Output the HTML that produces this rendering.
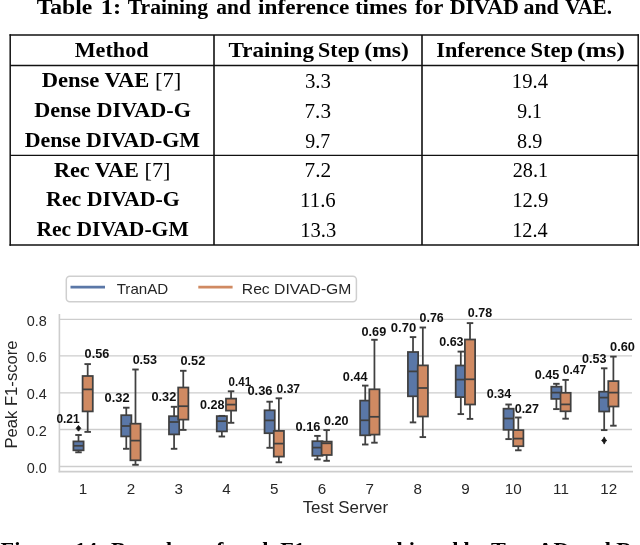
<!DOCTYPE html>
<html><head><meta charset="utf-8"><style>
html,body{margin:0;padding:0;background:#fff;width:640px;height:545px;overflow:hidden}
svg{display:block} svg{filter:blur(0.3px)}
</style></head><body>
<svg width="640" height="545" viewBox="0 0 640 545">
<rect class="bg" width="640" height="545" fill="#fff"/>
<text x="0" y="0" transform="translate(36.684,13.80) scale(1.11647,1)" font-family='"Liberation Serif", serif' font-weight="bold" font-size="21.2" fill="#000" >Table</text>
<text x="0" y="0" transform="translate(100.699,13.80) scale(1.15579,1)" font-family='"Liberation Serif", serif' font-weight="bold" font-size="21.2" fill="#000" >1:</text>
<text x="0" y="0" transform="translate(127.688,13.80) scale(1.02324,1)" font-family='"Liberation Serif", serif' font-weight="bold" font-size="21.2" fill="#000" >Training</text>
<text x="0" y="0" transform="translate(216.240,13.80) scale(1.01163,1)" font-family='"Liberation Serif", serif' font-weight="bold" font-size="21.2" fill="#000" >and</text>
<text x="0" y="0" transform="translate(258.118,13.80) scale(1.09725,1)" font-family='"Liberation Serif", serif' font-weight="bold" font-size="21.2" fill="#000" >inference</text>
<text x="0" y="0" transform="translate(354.875,13.80) scale(1.08523,1)" font-family='"Liberation Serif", serif' font-weight="bold" font-size="21.2" fill="#000" >times</text>
<text x="0" y="0" transform="translate(414.900,13.80) scale(1.04749,1)" font-family='"Liberation Serif", serif' font-weight="bold" font-size="21.2" fill="#000" >for</text>
<text x="0" y="0" transform="translate(449.627,13.80) scale(1.03993,1)" font-family='"Liberation Serif", serif' font-weight="bold" font-size="21.2" fill="#000" >DIVAD</text>
<text x="0" y="0" transform="translate(523.398,13.80) scale(1.03777,1)" font-family='"Liberation Serif", serif' font-weight="bold" font-size="21.2" fill="#000" >and</text>
<text x="0" y="0" transform="translate(565.216,13.80) scale(0.98883,1)" font-family='"Liberation Serif", serif' font-weight="bold" font-size="21.2" fill="#000" >VAE.</text>
<g stroke="#111111" stroke-width="1.3" fill="none">
<line x1="9.5" y1="35" x2="638.9" y2="35" stroke-width="1.4"/>
<line x1="9.5" y1="245" x2="638.9" y2="245" stroke-width="1.4"/>
<line x1="10.2" y1="34.3" x2="10.2" y2="245.7" stroke-width="1.5"/>
<line x1="638.2" y1="34.3" x2="638.2" y2="245.7" stroke-width="1.5"/>
<line x1="10" y1="65.5" x2="638" y2="65.5" stroke-width="1.3"/>
<line x1="10" y1="155.3" x2="638" y2="155.3" stroke-width="1.3"/>
<line x1="214" y1="35" x2="214" y2="245" stroke-width="1.6"/>
<line x1="422" y1="35" x2="422" y2="245" stroke-width="1.6"/>
</g>
<text x="0" y="0" transform="translate(74.673,56.70) scale(1.04625,1)" font-family='"Liberation Serif", serif' font-weight="bold" font-size="21.2" fill="#000" >Method</text>
<text x="0" y="0" transform="translate(228.485,56.70) scale(1.08926,1)" font-family='"Liberation Serif", serif' font-weight="bold" font-size="21.2" fill="#000" >Training</text>
<text x="0" y="0" transform="translate(318.089,56.70) scale(1.03812,1)" font-family='"Liberation Serif", serif' font-weight="bold" font-size="21.2" fill="#000" >Step</text>
<text x="0" y="0" transform="translate(364.279,56.70) scale(1.11283,1)" font-family='"Liberation Serif", serif' font-weight="bold" font-size="21.2" fill="#000" >(ms)</text>
<text x="0" y="0" transform="translate(436.225,56.70) scale(1.04868,1)" font-family='"Liberation Serif", serif' font-weight="bold" font-size="21.2" fill="#000" >Inference</text>
<text x="0" y="0" transform="translate(530.387,56.70) scale(1.06490,1)" font-family='"Liberation Serif", serif' font-weight="bold" font-size="21.2" fill="#000" >Step</text>
<text x="0" y="0" transform="translate(577.088,56.70) scale(1.19304,1)" font-family='"Liberation Serif", serif' font-weight="bold" font-size="21.2" fill="#000" >(ms)</text>
<text x="0" y="0" transform="translate(41.65,87.00) scale(1.0654,1)" font-family='"Liberation Serif", serif' font-size="21.2" fill="#000"><tspan font-weight="bold">Dense VAE </tspan><tspan font-weight="normal">[7]</tspan></text>
<text x="0" y="0" transform="translate(304.898,87.50) scale(1.03437,1)" font-family='"Liberation Serif", serif' font-weight="normal" font-size="20.2" fill="#000" >3.3</text>
<text x="0" y="0" transform="translate(511.849,87.50) scale(1.02230,1)" font-family='"Liberation Serif", serif' font-weight="normal" font-size="20.2" fill="#000" >19.4</text>
<text x="0" y="0" transform="translate(34.20,117.00) scale(1.0472,1)" font-family='"Liberation Serif", serif' font-size="21.2" fill="#000"><tspan font-weight="bold">Dense DIVAD-G</tspan></text>
<text x="0" y="0" transform="translate(304.533,117.50) scale(1.04852,1)" font-family='"Liberation Serif", serif' font-weight="normal" font-size="20.2" fill="#000" >7.3</text>
<text x="0" y="0" transform="translate(517.224,117.50) scale(0.98142,1)" font-family='"Liberation Serif", serif' font-weight="normal" font-size="20.2" fill="#000" >9.1</text>
<text x="0" y="0" transform="translate(24.66,147.00) scale(1.0332,1)" font-family='"Liberation Serif", serif' font-size="21.2" fill="#000"><tspan font-weight="bold">Dense DIVAD-GM</tspan></text>
<text x="0" y="0" transform="translate(305.362,147.50) scale(0.98554,1)" font-family='"Liberation Serif", serif' font-weight="normal" font-size="20.2" fill="#000" >9.7</text>
<text x="0" y="0" transform="translate(517.104,147.50) scale(1.00058,1)" font-family='"Liberation Serif", serif' font-weight="normal" font-size="20.2" fill="#000" >8.9</text>
<text x="0" y="0" transform="translate(53.89,176.80) scale(1.0498,1)" font-family='"Liberation Serif", serif' font-size="21.2" fill="#000"><tspan font-weight="bold">Rec VAE </tspan><tspan font-weight="normal">[7]</tspan></text>
<text x="0" y="0" transform="translate(304.557,177.30) scale(1.05765,1)" font-family='"Liberation Serif", serif' font-weight="normal" font-size="20.2" fill="#000" >7.2</text>
<text x="0" y="0" transform="translate(512.752,177.30) scale(0.99926,1)" font-family='"Liberation Serif", serif' font-weight="normal" font-size="20.2" fill="#000" >28.1</text>
<text x="0" y="0" transform="translate(46.11,206.00) scale(1.0312,1)" font-family='"Liberation Serif", serif' font-size="21.2" fill="#000"><tspan font-weight="bold">Rec DIVAD-G</tspan></text>
<text x="0" y="0" transform="translate(300.104,206.50) scale(1.03040,1)" font-family='"Liberation Serif", serif' font-weight="normal" font-size="20.2" fill="#000" >11.6</text>
<text x="0" y="0" transform="translate(512.175,206.50) scale(1.02313,1)" font-family='"Liberation Serif", serif' font-weight="normal" font-size="20.2" fill="#000" >12.9</text>
<text x="0" y="0" transform="translate(36.41,236.20) scale(1.0181,1)" font-family='"Liberation Serif", serif' font-size="21.2" fill="#000"><tspan font-weight="bold">Rec DIVAD-GM</tspan></text>
<text x="0" y="0" transform="translate(300.247,236.70) scale(1.01844,1)" font-family='"Liberation Serif", serif' font-weight="normal" font-size="20.2" fill="#000" >13.3</text>
<text x="0" y="0" transform="translate(512.132,236.70) scale(1.00535,1)" font-family='"Liberation Serif", serif' font-weight="normal" font-size="20.2" fill="#000" >12.4</text>
<g stroke="#cdcdcd" stroke-width="1.3" fill="none">
<line x1="59.4" y1="319.3" x2="632" y2="319.3"/>
<line x1="59.4" y1="355.9" x2="632" y2="355.9"/>
<line x1="59.4" y1="392.8" x2="632" y2="392.8"/>
<line x1="59.4" y1="429.5" x2="632" y2="429.5"/>
<line x1="59.4" y1="466.5" x2="632" y2="466.5"/>
<line x1="59.4" y1="314" x2="59.4" y2="472.2" stroke-width="1.6"/>
<line x1="58.6" y1="471.6" x2="633" y2="471.6" stroke-width="1.6"/>
</g>
<text x="0" y="0" transform="translate(26.700,472.78) scale(0.95134,1)" font-family='"Liberation Sans", sans-serif' font-weight="normal" font-size="15.2" fill="#262626" >0.0</text>
<text x="0" y="0" transform="translate(26.700,435.78) scale(0.95134,1)" font-family='"Liberation Sans", sans-serif' font-weight="normal" font-size="15.2" fill="#262626" >0.2</text>
<text x="0" y="0" transform="translate(26.700,399.08) scale(0.95134,1)" font-family='"Liberation Sans", sans-serif' font-weight="normal" font-size="15.2" fill="#262626" >0.4</text>
<text x="0" y="0" transform="translate(26.700,362.18) scale(0.95134,1)" font-family='"Liberation Sans", sans-serif' font-weight="normal" font-size="15.2" fill="#262626" >0.6</text>
<text x="0" y="0" transform="translate(26.700,325.58) scale(0.95134,1)" font-family='"Liberation Sans", sans-serif' font-weight="normal" font-size="15.2" fill="#262626" >0.8</text>
<text x="83.09" y="493.9" text-anchor="middle" font-family='"Liberation Sans", sans-serif' font-size="15.2" fill="#262626">1</text>
<text x="130.88" y="493.9" text-anchor="middle" font-family='"Liberation Sans", sans-serif' font-size="15.2" fill="#262626">2</text>
<text x="178.68" y="493.9" text-anchor="middle" font-family='"Liberation Sans", sans-serif' font-size="15.2" fill="#262626">3</text>
<text x="226.46" y="493.9" text-anchor="middle" font-family='"Liberation Sans", sans-serif' font-size="15.2" fill="#262626">4</text>
<text x="274.25" y="493.9" text-anchor="middle" font-family='"Liberation Sans", sans-serif' font-size="15.2" fill="#262626">5</text>
<text x="322.04" y="493.9" text-anchor="middle" font-family='"Liberation Sans", sans-serif' font-size="15.2" fill="#262626">6</text>
<text x="369.83" y="493.9" text-anchor="middle" font-family='"Liberation Sans", sans-serif' font-size="15.2" fill="#262626">7</text>
<text x="417.62" y="493.9" text-anchor="middle" font-family='"Liberation Sans", sans-serif' font-size="15.2" fill="#262626">8</text>
<text x="465.41" y="493.9" text-anchor="middle" font-family='"Liberation Sans", sans-serif' font-size="15.2" fill="#262626">9</text>
<text x="513.21" y="493.9" text-anchor="middle" font-family='"Liberation Sans", sans-serif' font-size="15.2" fill="#262626">10</text>
<text x="561.00" y="493.9" text-anchor="middle" font-family='"Liberation Sans", sans-serif' font-size="15.2" fill="#262626">11</text>
<text x="608.79" y="493.9" text-anchor="middle" font-family='"Liberation Sans", sans-serif' font-size="15.2" fill="#262626">12</text>
<text x="0" y="0" transform="translate(302.639,512.90) scale(1.04468,1)" font-family='"Liberation Sans", sans-serif' font-weight="normal" font-size="16.2" fill="#262626" >Test Server</text>
<g transform="translate(17.1,448.6) rotate(-90)"><text x="0" y="0" transform="translate(0.000,0.00) scale(1.02817,1)" font-family='"Liberation Sans", sans-serif' font-weight="normal" font-size="16.2" fill="#262626" >Peak F1-score</text></g>
<rect x="66.3" y="276.2" width="290.1" height="25.6" rx="3.5" fill="#fff" stroke="#cfcfcf" stroke-width="1.5"/>
<line x1="70.5" y1="287.1" x2="105" y2="287.1" stroke="#5a77a7" stroke-width="2.7"/>
<line x1="198.3" y1="287.1" x2="232.6" y2="287.1" stroke="#d08a62" stroke-width="2.7"/>
<text x="0" y="0" transform="translate(116.677,293.50) scale(1.03595,1)" font-family='"Liberation Sans", sans-serif' font-weight="normal" font-size="14.6" fill="#262626" >TranAD</text>
<text x="0" y="0" transform="translate(241.796,293.50) scale(1.07574,1)" font-family='"Liberation Sans", sans-serif' font-weight="normal" font-size="14.6" fill="#262626" >Rec DIVAD-GM</text>
<g stroke="#404040" stroke-width="1.75">
<line x1="78.50" y1="435.0" x2="78.50" y2="441.4"/>
<line x1="78.50" y1="450.3" x2="78.50" y2="452.3"/>
<line x1="75.25" y1="435.0" x2="81.75" y2="435.0" stroke-width="1.9"/>
<line x1="75.25" y1="452.3" x2="81.75" y2="452.3" stroke-width="1.9"/>
<rect x="73.40" y="441.4" width="10.2" height="8.90" fill="#5a77a7"/>
<line x1="73.40" y1="445.8" x2="83.59" y2="445.8"/>
<line x1="87.69" y1="364.1" x2="87.69" y2="376.0"/>
<line x1="87.69" y1="411.4" x2="87.69" y2="431.9"/>
<line x1="84.44" y1="364.1" x2="90.94" y2="364.1" stroke-width="1.9"/>
<line x1="84.44" y1="431.9" x2="90.94" y2="431.9" stroke-width="1.9"/>
<rect x="82.59" y="376.0" width="10.2" height="35.40" fill="#d08a62"/>
<line x1="82.59" y1="389.4" x2="92.79" y2="389.4"/>
<line x1="126.28" y1="407.7" x2="126.28" y2="415.2"/>
<line x1="126.28" y1="436.4" x2="126.28" y2="448.8"/>
<line x1="123.03" y1="407.7" x2="129.53" y2="407.7" stroke-width="1.9"/>
<line x1="123.03" y1="448.8" x2="129.53" y2="448.8" stroke-width="1.9"/>
<rect x="121.19" y="415.2" width="10.2" height="21.20" fill="#5a77a7"/>
<line x1="121.19" y1="426.0" x2="131.38" y2="426.0"/>
<line x1="135.48" y1="369.5" x2="135.48" y2="423.7"/>
<line x1="135.48" y1="460.3" x2="135.48" y2="464.8"/>
<line x1="132.23" y1="369.5" x2="138.73" y2="369.5" stroke-width="1.9"/>
<line x1="132.23" y1="464.8" x2="138.73" y2="464.8" stroke-width="1.9"/>
<rect x="130.38" y="423.7" width="10.2" height="36.60" fill="#d08a62"/>
<line x1="130.38" y1="440.6" x2="140.58" y2="440.6"/>
<line x1="174.08" y1="406.8" x2="174.08" y2="416.2"/>
<line x1="174.08" y1="434.4" x2="174.08" y2="448.8"/>
<line x1="170.83" y1="406.8" x2="177.33" y2="406.8" stroke-width="1.9"/>
<line x1="170.83" y1="448.8" x2="177.33" y2="448.8" stroke-width="1.9"/>
<rect x="168.98" y="416.2" width="10.2" height="18.20" fill="#5a77a7"/>
<line x1="168.98" y1="422.0" x2="179.18" y2="422.0"/>
<line x1="183.28" y1="370.8" x2="183.28" y2="387.5"/>
<line x1="183.28" y1="419.6" x2="183.28" y2="429.9"/>
<line x1="180.03" y1="370.8" x2="186.53" y2="370.8" stroke-width="1.9"/>
<line x1="180.03" y1="429.9" x2="186.53" y2="429.9" stroke-width="1.9"/>
<rect x="178.18" y="387.5" width="10.2" height="32.10" fill="#d08a62"/>
<line x1="178.18" y1="406.2" x2="188.38" y2="406.2"/>
<line x1="221.86" y1="415.9" x2="221.86" y2="416.1"/>
<line x1="221.86" y1="431.4" x2="221.86" y2="436.5"/>
<line x1="218.61" y1="415.9" x2="225.11" y2="415.9" stroke-width="1.9"/>
<line x1="218.61" y1="436.5" x2="225.11" y2="436.5" stroke-width="1.9"/>
<rect x="216.76" y="416.1" width="10.2" height="15.30" fill="#5a77a7"/>
<line x1="216.76" y1="421.2" x2="226.96" y2="421.2"/>
<line x1="231.06" y1="391.3" x2="231.06" y2="398.6"/>
<line x1="231.06" y1="410.6" x2="231.06" y2="422.8"/>
<line x1="227.81" y1="391.3" x2="234.31" y2="391.3" stroke-width="1.9"/>
<line x1="227.81" y1="422.8" x2="234.31" y2="422.8" stroke-width="1.9"/>
<rect x="225.96" y="398.6" width="10.2" height="12.00" fill="#d08a62"/>
<line x1="225.96" y1="404.6" x2="236.16" y2="404.6"/>
<line x1="269.65" y1="401.7" x2="269.65" y2="410.3"/>
<line x1="269.65" y1="433.2" x2="269.65" y2="447.8"/>
<line x1="266.40" y1="401.7" x2="272.90" y2="401.7" stroke-width="1.9"/>
<line x1="266.40" y1="447.8" x2="272.90" y2="447.8" stroke-width="1.9"/>
<rect x="264.55" y="410.3" width="10.2" height="22.90" fill="#5a77a7"/>
<line x1="264.55" y1="420.4" x2="274.75" y2="420.4"/>
<line x1="278.86" y1="398.3" x2="278.86" y2="430.9"/>
<line x1="278.86" y1="456.6" x2="278.86" y2="462.3"/>
<line x1="275.61" y1="398.3" x2="282.11" y2="398.3" stroke-width="1.9"/>
<line x1="275.61" y1="462.3" x2="282.11" y2="462.3" stroke-width="1.9"/>
<rect x="273.75" y="430.9" width="10.2" height="25.70" fill="#d08a62"/>
<line x1="273.75" y1="443.6" x2="283.96" y2="443.6"/>
<line x1="317.44" y1="435.9" x2="317.44" y2="441.2"/>
<line x1="317.44" y1="455.8" x2="317.44" y2="459.4"/>
<line x1="314.19" y1="435.9" x2="320.69" y2="435.9" stroke-width="1.9"/>
<line x1="314.19" y1="459.4" x2="320.69" y2="459.4" stroke-width="1.9"/>
<rect x="312.34" y="441.2" width="10.2" height="14.60" fill="#5a77a7"/>
<line x1="312.34" y1="447.6" x2="322.54" y2="447.6"/>
<line x1="326.64" y1="430.1" x2="326.64" y2="441.6"/>
<line x1="326.64" y1="455.0" x2="326.64" y2="460.8"/>
<line x1="323.39" y1="430.1" x2="329.89" y2="430.1" stroke-width="1.9"/>
<line x1="323.39" y1="460.8" x2="329.89" y2="460.8" stroke-width="1.9"/>
<rect x="321.54" y="441.6" width="10.2" height="13.40" fill="#d08a62"/>
<line x1="321.54" y1="443.3" x2="331.75" y2="443.3"/>
<line x1="365.23" y1="385.6" x2="365.23" y2="400.6"/>
<line x1="365.23" y1="435.3" x2="365.23" y2="444.5"/>
<line x1="361.98" y1="385.6" x2="368.48" y2="385.6" stroke-width="1.9"/>
<line x1="361.98" y1="444.5" x2="368.48" y2="444.5" stroke-width="1.9"/>
<rect x="360.13" y="400.6" width="10.2" height="34.70" fill="#5a77a7"/>
<line x1="360.13" y1="420.3" x2="370.33" y2="420.3"/>
<line x1="374.44" y1="339.8" x2="374.44" y2="389.3"/>
<line x1="374.44" y1="434.6" x2="374.44" y2="442.7"/>
<line x1="371.19" y1="339.8" x2="377.69" y2="339.8" stroke-width="1.9"/>
<line x1="371.19" y1="442.7" x2="377.69" y2="442.7" stroke-width="1.9"/>
<rect x="369.33" y="389.3" width="10.2" height="45.30" fill="#d08a62"/>
<line x1="369.33" y1="416.8" x2="379.54" y2="416.8"/>
<line x1="413.02" y1="337.1" x2="413.02" y2="352.0"/>
<line x1="413.02" y1="396.3" x2="413.02" y2="422.4"/>
<line x1="409.77" y1="337.1" x2="416.27" y2="337.1" stroke-width="1.9"/>
<line x1="409.77" y1="422.4" x2="416.27" y2="422.4" stroke-width="1.9"/>
<rect x="407.92" y="352.0" width="10.2" height="44.30" fill="#5a77a7"/>
<line x1="407.92" y1="371.4" x2="418.12" y2="371.4"/>
<line x1="422.83" y1="327.5" x2="422.83" y2="365.4"/>
<line x1="422.83" y1="416.5" x2="422.83" y2="437.1"/>
<line x1="419.58" y1="327.5" x2="426.08" y2="327.5" stroke-width="1.9"/>
<line x1="419.58" y1="437.1" x2="426.08" y2="437.1" stroke-width="1.9"/>
<rect x="417.73" y="365.4" width="10.2" height="51.10" fill="#d08a62"/>
<line x1="417.73" y1="388.0" x2="427.93" y2="388.0"/>
<line x1="460.81" y1="351.6" x2="460.81" y2="365.5"/>
<line x1="460.81" y1="397.1" x2="460.81" y2="414.1"/>
<line x1="457.56" y1="351.6" x2="464.06" y2="351.6" stroke-width="1.9"/>
<line x1="457.56" y1="414.1" x2="464.06" y2="414.1" stroke-width="1.9"/>
<rect x="455.71" y="365.5" width="10.2" height="31.60" fill="#5a77a7"/>
<line x1="455.71" y1="379.6" x2="465.91" y2="379.6"/>
<line x1="470.01" y1="323.1" x2="470.01" y2="339.5"/>
<line x1="470.01" y1="404.5" x2="470.01" y2="418.9"/>
<line x1="466.76" y1="323.1" x2="473.26" y2="323.1" stroke-width="1.9"/>
<line x1="466.76" y1="418.9" x2="473.26" y2="418.9" stroke-width="1.9"/>
<rect x="464.91" y="339.5" width="10.2" height="65.00" fill="#d08a62"/>
<line x1="464.91" y1="379.3" x2="475.12" y2="379.3"/>
<line x1="508.61" y1="404.5" x2="508.61" y2="408.7"/>
<line x1="508.61" y1="429.8" x2="508.61" y2="439.1"/>
<line x1="505.36" y1="404.5" x2="511.86" y2="404.5" stroke-width="1.9"/>
<line x1="505.36" y1="439.1" x2="511.86" y2="439.1" stroke-width="1.9"/>
<rect x="503.50" y="408.7" width="10.2" height="21.10" fill="#5a77a7"/>
<line x1="503.50" y1="418.5" x2="513.71" y2="418.5"/>
<line x1="518.31" y1="417.5" x2="518.31" y2="430.1"/>
<line x1="518.31" y1="446.2" x2="518.31" y2="450.3"/>
<line x1="515.06" y1="417.5" x2="521.56" y2="417.5" stroke-width="1.9"/>
<line x1="515.06" y1="450.3" x2="521.56" y2="450.3" stroke-width="1.9"/>
<rect x="513.21" y="430.1" width="10.2" height="16.10" fill="#d08a62"/>
<line x1="513.21" y1="438.6" x2="523.41" y2="438.6"/>
<line x1="556.39" y1="383.8" x2="556.39" y2="386.7"/>
<line x1="556.39" y1="398.9" x2="556.39" y2="409.1"/>
<line x1="553.14" y1="383.8" x2="559.64" y2="383.8" stroke-width="1.9"/>
<line x1="553.14" y1="409.1" x2="559.64" y2="409.1" stroke-width="1.9"/>
<rect x="551.29" y="386.7" width="10.2" height="12.20" fill="#5a77a7"/>
<line x1="551.29" y1="392.6" x2="561.50" y2="392.6"/>
<line x1="565.60" y1="379.9" x2="565.60" y2="392.8"/>
<line x1="565.60" y1="411.3" x2="565.60" y2="418.7"/>
<line x1="562.35" y1="379.9" x2="568.85" y2="379.9" stroke-width="1.9"/>
<line x1="562.35" y1="418.7" x2="568.85" y2="418.7" stroke-width="1.9"/>
<rect x="560.50" y="392.8" width="10.2" height="18.50" fill="#d08a62"/>
<line x1="560.50" y1="404.4" x2="570.70" y2="404.4"/>
<line x1="604.19" y1="368.3" x2="604.19" y2="391.7"/>
<line x1="604.19" y1="411.5" x2="604.19" y2="430.1"/>
<line x1="600.94" y1="368.3" x2="607.44" y2="368.3" stroke-width="1.9"/>
<line x1="600.94" y1="430.1" x2="607.44" y2="430.1" stroke-width="1.9"/>
<rect x="599.09" y="391.7" width="10.2" height="19.80" fill="#5a77a7"/>
<line x1="599.09" y1="397.6" x2="609.29" y2="397.6"/>
<line x1="613.39" y1="356.6" x2="613.39" y2="381.1"/>
<line x1="613.39" y1="406.5" x2="613.39" y2="425.7"/>
<line x1="610.14" y1="356.6" x2="616.64" y2="356.6" stroke-width="1.9"/>
<line x1="610.14" y1="425.7" x2="616.64" y2="425.7" stroke-width="1.9"/>
<rect x="608.29" y="381.1" width="10.2" height="25.40" fill="#d08a62"/>
<line x1="608.29" y1="392.6" x2="618.49" y2="392.6"/>
</g>
<path d="M78.50,425.40 L80.90,428.30 L78.50,431.20 L76.09,428.30 Z" fill="#151515" stroke="#151515" stroke-width="0.7" stroke-linejoin="round"/>
<path d="M604.19,436.90 Q605.09,439.60 606.79,440.50 Q605.09,441.40 604.19,444.10 Q603.29,441.40 601.59,440.50 Q603.29,439.60 604.19,436.90 Z" fill="#151515" stroke="#151515" stroke-width="0.8" stroke-linejoin="round"/>
<text x="0" y="0" transform="translate(56.389,422.80) scale(0.90615,1)" font-family='"Liberation Sans", sans-serif' font-weight="bold" font-size="13.2" fill="#111" >0.21</text>
<text x="0" y="0" transform="translate(84.596,358.40) scale(0.95963,1)" font-family='"Liberation Sans", sans-serif' font-weight="bold" font-size="13.2" fill="#111" >0.56</text>
<text x="0" y="0" transform="translate(104.542,402.10) scale(0.97556,1)" font-family='"Liberation Sans", sans-serif' font-weight="bold" font-size="13.2" fill="#111" >0.32</text>
<text x="0" y="0" transform="translate(132.634,364.25) scale(0.95040,1)" font-family='"Liberation Sans", sans-serif' font-weight="bold" font-size="13.2" fill="#111" >0.53</text>
<text x="0" y="0" transform="translate(151.412,401.00) scale(0.96725,1)" font-family='"Liberation Sans", sans-serif' font-weight="bold" font-size="13.2" fill="#111" >0.32</text>
<text x="0" y="0" transform="translate(180.520,365.00) scale(0.96433,1)" font-family='"Liberation Sans", sans-serif' font-weight="bold" font-size="13.2" fill="#111" >0.52</text>
<text x="0" y="0" transform="translate(200.033,408.90) scale(0.95361,1)" font-family='"Liberation Sans", sans-serif' font-weight="bold" font-size="13.2" fill="#111" >0.28</text>
<text x="0" y="0" transform="translate(228.557,385.80) scale(0.87785,1)" font-family='"Liberation Sans", sans-serif' font-weight="bold" font-size="13.2" fill="#111" >0.41</text>
<text x="0" y="0" transform="translate(247.395,395.20) scale(0.97870,1)" font-family='"Liberation Sans", sans-serif' font-weight="bold" font-size="13.2" fill="#111" >0.36</text>
<text x="0" y="0" transform="translate(276.611,393.00) scale(0.91459,1)" font-family='"Liberation Sans", sans-serif' font-weight="bold" font-size="13.2" fill="#111" >0.37</text>
<text x="0" y="0" transform="translate(295.490,431.10) scale(0.97195,1)" font-family='"Liberation Sans", sans-serif' font-weight="bold" font-size="13.2" fill="#111" >0.16</text>
<text x="0" y="0" transform="translate(324.106,424.70) scale(0.95315,1)" font-family='"Liberation Sans", sans-serif' font-weight="bold" font-size="13.2" fill="#111" >0.20</text>
<text x="0" y="0" transform="translate(342.865,380.70) scale(0.95978,1)" font-family='"Liberation Sans", sans-serif' font-weight="bold" font-size="13.2" fill="#111" >0.44</text>
<text x="0" y="0" transform="translate(361.524,336.40) scale(0.96296,1)" font-family='"Liberation Sans", sans-serif' font-weight="bold" font-size="13.2" fill="#111" >0.69</text>
<text x="0" y="0" transform="translate(390.815,331.80) scale(0.99267,1)" font-family='"Liberation Sans", sans-serif' font-weight="bold" font-size="13.2" fill="#111" >0.70</text>
<text x="0" y="0" transform="translate(419.598,322.00) scale(0.93822,1)" font-family='"Liberation Sans", sans-serif' font-weight="bold" font-size="13.2" fill="#111" >0.76</text>
<text x="0" y="0" transform="translate(439.200,346.00) scale(0.94890,1)" font-family='"Liberation Sans", sans-serif' font-weight="bold" font-size="13.2" fill="#111" >0.63</text>
<text x="0" y="0" transform="translate(467.812,316.80) scale(0.94646,1)" font-family='"Liberation Sans", sans-serif' font-weight="bold" font-size="13.2" fill="#111" >0.78</text>
<text x="0" y="0" transform="translate(486.675,398.10) scale(0.95343,1)" font-family='"Liberation Sans", sans-serif' font-weight="bold" font-size="13.2" fill="#111" >0.34</text>
<text x="0" y="0" transform="translate(514.698,412.60) scale(0.94728,1)" font-family='"Liberation Sans", sans-serif' font-weight="bold" font-size="13.2" fill="#111" >0.27</text>
<text x="0" y="0" transform="translate(534.676,378.70) scale(0.95852,1)" font-family='"Liberation Sans", sans-serif' font-weight="bold" font-size="13.2" fill="#111" >0.45</text>
<text x="0" y="0" transform="translate(562.840,374.40) scale(0.90956,1)" font-family='"Liberation Sans", sans-serif' font-weight="bold" font-size="13.2" fill="#111" >0.47</text>
<text x="0" y="0" transform="translate(582.090,362.80) scale(0.95301,1)" font-family='"Liberation Sans", sans-serif' font-weight="bold" font-size="13.2" fill="#111" >0.53</text>
<text x="0" y="0" transform="translate(610.044,351.10) scale(0.97183,1)" font-family='"Liberation Sans", sans-serif' font-weight="bold" font-size="13.2" fill="#111" >0.60</text>
<text x="0" y="0" transform="translate(0.60,556.90) scale(1.0500,1)" font-family='"Liberation Serif", serif' font-weight="bold" font-size="21.2" fill="#000">Figure</text>
<text x="0" y="0" transform="translate(74.80,556.90) scale(1.0500,1)" font-family='"Liberation Serif", serif' font-weight="bold" font-size="21.2" fill="#000">14:</text>
<text x="0" y="0" transform="translate(111.00,556.90) scale(1.0490,1)" font-family='"Liberation Serif", serif' font-weight="bold" font-size="21.2" fill="#000">Box plots of peak F1-scores achieved by</text>
<text x="0" y="0" transform="translate(490.90,556.90) scale(1.0480,1)" font-family='"Liberation Serif", serif' font-weight="bold" font-size="21.2" fill="#000">TranAD and Rec DIVAD-GM</text>
</svg>
</body></html>
